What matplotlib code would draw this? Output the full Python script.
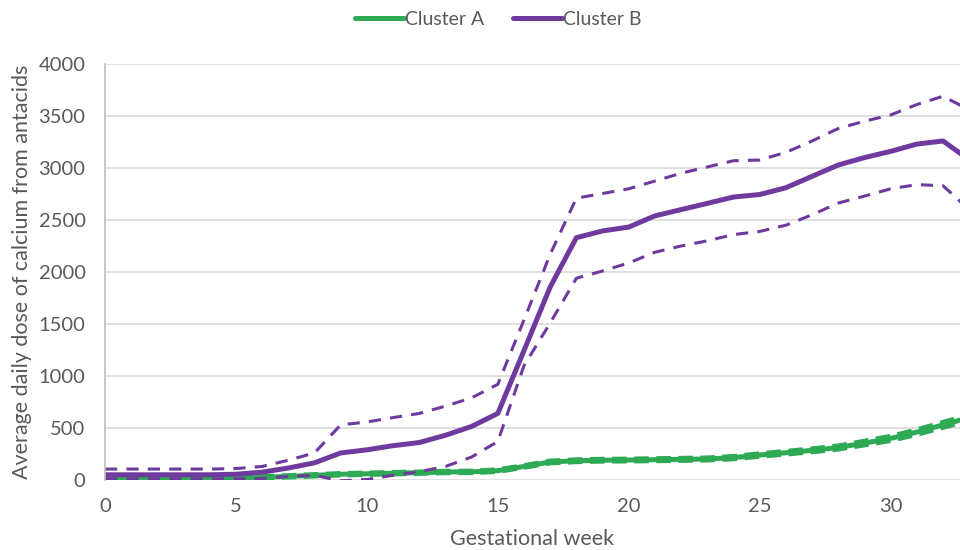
import matplotlib.pyplot as plt
import numpy as np

plt.rcParams['font.family'] = ['Lato', 'DejaVu Sans']

weeks = list(range(0, 34))

# Cluster A (green)
a_mean = [10, 10, 10, 10, 12, 15, 25, 35, 45, 55, 60, 65, 70, 77, 78, 90, 130, 173,
          185, 190, 192, 195, 198, 202, 215, 240, 262, 285, 312, 355, 400, 460, 530, 600]
a_low = [0, 0, 0, 0, 2, 5, 14, 24, 34, 44, 49, 54, 59, 66, 67, 78, 118, 160,
         172, 177, 179, 181, 184, 188, 200, 224, 245, 267, 293, 333, 376, 434, 502, 570]
a_high = [20, 20, 20, 20, 22, 25, 36, 46, 56, 66, 71, 76, 81, 88, 89, 102, 142, 186,
          198, 203, 205, 209, 212, 216, 230, 256, 279, 303, 331, 377, 424, 486, 558, 630]

# Cluster B (purple)
b_mean = [50, 50, 50, 50, 50, 55, 75, 115, 165, 260, 290, 330, 360, 430, 515, 640, 1245, 1856,
          2330, 2395, 2432, 2540, 2600, 2660, 2721, 2745, 2810, 2920, 3029, 3100, 3160, 3230, 3260, 3080]
b_low = [10, 10, 10, 10, 10, 10, 15, 35, 45, -8, 5, 45, 80, 130, 221, 370, 1100, 1510,
         1940, 2010, 2087, 2190, 2250, 2300, 2360, 2390, 2450, 2550, 2663, 2730, 2800, 2840, 2830, 2600]
b_high = [105, 105, 105, 105, 105, 110, 130, 190, 260, 530, 558, 600, 640, 710, 790, 920, 1540, 2170,
          2710, 2755, 2800, 2875, 2950, 3010, 3070, 3077, 3150, 3260, 3380, 3450, 3510, 3610, 3690, 3560]

green = '#2EAA55'
purple = '#6E3A9E'
grey_txt = '#595959'

fig = plt.figure(figsize=(9.6, 5.5), dpi=100)
ax = fig.add_axes([0.1094, 0.1273, 0.8906, 0.7563])

ax.plot(weeks, a_low, color=green, lw=3.0, ls=(0, (3.5, 1.8)))
ax.plot(weeks, a_high, color=green, lw=3.0, ls=(0, (3.5, 1.8)))
ax.plot(weeks, a_mean, color=green, lw=3.6, label='Cluster A', solid_capstyle='round',
        solid_joinstyle='round')

ax.plot(weeks, b_low, color=purple, lw=2.2, ls=(0, (4, 3)))
ax.plot(weeks, b_high, color=purple, lw=2.2, ls=(0, (4, 3)))
ax.plot(weeks, b_mean, color=purple, lw=3.6, label='Cluster B', solid_capstyle='round',
        solid_joinstyle='round')

ax.set_xlim(0, 32.65)
ax.set_ylim(0, 4000)
ax.set_xticks([0, 5, 10, 15, 20, 25, 30])
ax.set_yticks(np.arange(0, 4001, 500))
ax.grid(axis='y', color='#d9d9d9', lw=1.2)
ax.set_axisbelow(True)
for s in ['top', 'right', 'bottom']:
    ax.spines[s].set_visible(False)
ax.spines['left'].set_color('#bfbfbf')
ax.spines['left'].set_linewidth(1.2)
ax.tick_params(axis='both', length=0, labelsize=14.5, colors=grey_txt)
ax.tick_params(axis='x', pad=13)
ax.tick_params(axis='y', pad=14)

ax.set_xlabel('Gestational week', fontsize=15.5, color=grey_txt, labelpad=10)
ax.set_ylabel('Average daily dose of calcium from antacids', fontsize=15.5, color=grey_txt,
              labelpad=5)

fig.legend(loc='upper center', bbox_to_anchor=(0.519, 1.012), ncol=2, frameon=False,
           fontsize=14, handlelength=2.5, handletextpad=0.05, columnspacing=1.5,
           labelcolor=grey_txt)

fig.savefig('out.png', dpi=100)
